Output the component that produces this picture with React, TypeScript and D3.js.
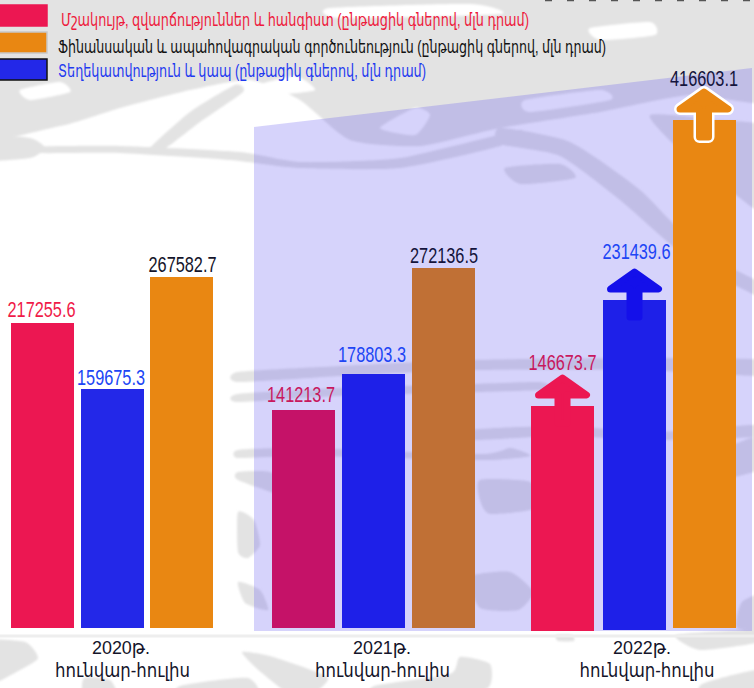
import { useEffect, useRef } from 'react';
import * as d3 from 'd3';

const years = ['2020', '2021', '2022'];
const yearLabels = ['2020թ.', '2021թ.', '2022թ.'];
const periodLabel = 'հունվար-հուլիս';
const seriesKeys = ['culture', 'telecom', 'finance'];

const cultureValues = [217255.6, 141213.7, 146673.7];
const telecomValues = [159675.3, 178803.3, 231439.6];
const financeValues = [267582.7, 272136.5, 416603.1];

const legendLabels = [
    'Մշակույթ, զվարճություններ և հանգիստ (ընթացիկ գներով, մլն դրամ)',
    'Ֆինանսական և ապահովագրական գործունեություն (ընթացիկ գներով, մլն դրամ)',
    'Տեղեկատվություն և կապ (ընթացիկ գներով, մլն դրամ)',
];

// the source bars are hand drawn and not proportional, so the scale goes through each bar's height
const scaleValues = [141213.7, 146673.7, 159675.3, 178803.3, 217255.6, 231439.6, 267582.7, 272136.5, 416603.1];
const scaleTops = [410, 406, 389, 374, 323, 300, 277, 268, 120];

// background map texture, closed blobs as [x, y] lists
const grayBlobs: [number, number][][] = [
    [[-30, -30], [790, -30], [790, 100], [690, 95], [600, 112], [500, 128], [420, 146], [350, 140], [300, 100], [250, 80], [190, 90], [120, 108], [60, 126], [-30, 134]],
    [[-20, 135], [30, 138], [45, 148], [30, 158], [-20, 160]],
    [[30, 147], [120, 146], [240, 152], [300, 162], [400, 158], [520, 130], [500, 146], [400, 168], [300, 168], [230, 160], [120, 153], [40, 153]],
    [[148, 150], [190, 112], [235, 85], [243, 92], [200, 122], [163, 150]],
    [[500, 128], [570, 142], [640, 190], [700, 250], [770, 288], [770, 302], [690, 260], [620, 200], [560, 156], [500, 144]],
    [[650, 115], [720, 120], [770, 130], [770, 215], [730, 190], [680, 150]],
    [[505, 168], [560, 164], [575, 178], [520, 184]],
    [[238, 372], [340, 366], [470, 360], [640, 358], [770, 360], [770, 376], [640, 370], [470, 370], [340, 376], [238, 382]],
    [[238, 394], [340, 388], [470, 384], [540, 382], [540, 390], [340, 396], [238, 402]],
    [[470, 430], [560, 426], [660, 432], [770, 424], [770, 436], [660, 440], [560, 436], [470, 440]],
    [[238, 450], [300, 448], [480, 454], [510, 448], [530, 456], [480, 460], [300, 456], [238, 458]],
    [[238, 472], [270, 472], [298, 490], [290, 498], [238, 480]],
    [[480, 480], [530, 482], [536, 508], [490, 514], [480, 500]],
    [[680, 468], [770, 432], [770, 466], [690, 486]],
    [[238, 512], [254, 520], [260, 545], [248, 558], [238, 552]],
    [[470, 577], [510, 572], [533, 592], [518, 610], [480, 608]],
    [[238, 582], [260, 590], [268, 610], [245, 603]],
    [[742, 602], [770, 592], [770, 628], [737, 628]],
    [[-20, 642], [25, 642], [38, 658], [20, 670], [-20, 688]],
    [[84, 678], [110, 680], [118, 700], [84, 700]],
    [[180, 686], [248, 678], [258, 700], [180, 700]],
    [[242, 652], [273, 657], [328, 678], [300, 700], [262, 673]],
    [[374, 686], [450, 674], [460, 657], [490, 664], [488, 688], [440, 700], [374, 700]],
    [[556, 635], [572, 635], [574, 641], [558, 641]],
    [[676, 635], [754, 630], [760, 642], [700, 650]],
    [[702, 684], [760, 670], [760, 700], [702, 700]],
];

const whitePatches: [number, number][][] = [
    [[20, 90], [60, 82], [70, 92], [30, 100]],
    [[330, 8], [470, 4], [500, 14], [340, 18]],
    [[250, 88], [295, 76], [315, 90], [280, 94]],
    [[380, 128], [415, 108], [430, 115], [415, 135]],
    [[525, 100], [600, 90], [610, 100], [530, 112]],
    [[590, 28], [650, 22], [655, 35], [600, 40]],
];

const width = 754;
const height = 688;

const App = () => {
    const svgRef = useRef<SVGSVGElement>(null);

    useEffect(() => {
        const svg = d3.select(svgRef.current);
        svg.selectAll('*').remove();

        const y = d3.scaleLinear().domain(scaleValues).range(scaleTops);
        const xGroup = d3.scaleBand().domain(years).range([11, 734]).paddingInner(57 / 260);
        const xBar = d3.scaleBand().domain(seriesKeys).range([0, xGroup.bandwidth()]).paddingInner(0.1);

        const rows = [cultureValues, telecomValues, financeValues];
        const barColors = [
            ['#ec1752', '#c51268', '#ec1752'],
            ['#2328e8', '#1e20e8', '#1e20e8'],
            ['#e98712', '#c07035', '#e98712'],
        ];
        const labelColors = [
            ['#f01a48', '#c8185e', '#c8185e'],
            ['#2045f5', '#2045f5', '#2045f5'],
            ['#14142a', '#14143c', '#14143c'],
        ];
        // small hand corrections seen in the source
        const barShift = [[0, 1, 0], [0, 1, 2], [-1, 1, 2]];
        const barBase = [[628, 628, 631], [628, 628, 630], [628, 628, 628]];
        const labelCenter = [[41.5, 301, 562.5], [111, 372, 636.5], [182.5, 444, 704]];
        const labelGap = [[6.5, 8, 36], [4, 12, 41], [5.5, 5.5, 34]];
        const arrowCenter = [562.5, 634.5, 704];

        svg.append('rect').attr('width', width).attr('height', height).attr('fill', '#fff');

        // texture
        const defs = svg.append('defs');
        defs.append('filter').attr('id', 'soft').append('feGaussianBlur').attr('stdDeviation', 0.8);
        const blob = d3.line().curve(d3.curveCardinalClosed.tension(0.4));
        const texture = svg.append('g').attr('filter', 'url(#soft)');
        grayBlobs.forEach(pts => {
            texture.append('path').attr('d', blob(pts)).attr('fill', '#e3e3e3');
        });
        whitePatches.forEach(pts => {
            texture.append('path').attr('d', blob(pts)).attr('fill', '#fff');
        });
        svg.append('line')
            .attr('x1', 0).attr('x2', width).attr('y1', 636).attr('y2', 636)
            .attr('stroke', '#eeeeee').attr('stroke-width', 3);
        svg.append('line')
            .attr('x1', 545).attr('x2', 754).attr('y1', 0.5).attr('y2', 0.5)
            .attr('stroke', '#555').attr('stroke-width', 1.5).attr('stroke-dasharray', '7 15');

        // tinted panel behind 2021 and 2022
        svg.append('path')
            .attr('d', 'M254,127 L752,68 V631 H254 Z')
            .attr('fill', '#5a50f0')
            .attr('fill-opacity', 0.25);

        // bars
        seriesKeys.forEach((key, s) => {
            years.forEach((year, i) => {
                const value = rows[s][i];
                const top = y(value);
                svg.append('rect')
                    .attr('x', (xGroup(year) as number) + (xBar(key) as number) + barShift[s][i])
                    .attr('y', top)
                    .attr('width', xBar.bandwidth())
                    .attr('height', barBase[s][i] - top)
                    .attr('fill', barColors[s][i]);
            });
        });

        // growth arrows on the 2022 bars
        const arrowColors = ['#ec1752', '#1410ea', '#e98712'];
        const arrowPath = d3.line();
        seriesKeys.forEach((key, s) => {
            const top = y(rows[s][2]);
            const cx = arrowCenter[s];
            const shape: [number, number][] = [
                [cx, top - 28],
                [cx + 24, top - 11],
                [cx + 4.5, top - 11],
                [cx + 4.5, top + 17],
                [cx - 4.5, top + 17],
                [cx - 4.5, top - 11],
                [cx - 24, top - 11],
            ];
            const d = arrowPath(shape) + 'Z';
            if (key === 'finance') {
                svg.append('path').attr('d', d)
                    .attr('fill', '#fff').attr('stroke', '#fff').attr('stroke-width', 12).attr('stroke-linejoin', 'round');
            }
            svg.append('path').attr('d', d)
                .attr('fill', arrowColors[s]).attr('stroke', arrowColors[s]).attr('stroke-width', 7).attr('stroke-linejoin', 'round');
        });

        // value labels
        seriesKeys.forEach((key, s) => {
            years.forEach((year, i) => {
                const value = rows[s][i];
                svg.append('text')
                    .attr('class', `value-${key}-${year}`)
                    .text(value.toFixed(1))
                    .attr('x', labelCenter[s][i])
                    .attr('y', y(value) - labelGap[s][i])
                    .attr('text-anchor', 'middle')
                    .attr('textLength', 68)
                    .attr('lengthAdjust', 'spacingAndGlyphs')
                    .style('font-family', '"Liberation Sans", Arial, sans-serif')
                    .style('font-size', '22px')
                    .style('fill', labelColors[s][i]);
            });
        });

        // x labels
        const labelFont = '"Liberation Sans", "DejaVu Sans", sans-serif';
        const yearCenters = [121, 382, 642];
        const periodCenters = [122.5, 382.5, 647];
        years.forEach((year, i) => {
            svg.append('text')
                .text(yearLabels[i])
                .attr('x', yearCenters[i])
                .attr('y', 654)
                .attr('text-anchor', 'middle')
                .attr('textLength', 58)
                .attr('lengthAdjust', 'spacingAndGlyphs')
                .style('font-family', labelFont)
                .style('font-size', '19px')
                .style('fill', '#14142a');
            svg.append('text')
                .text(periodLabel)
                .attr('x', periodCenters[i])
                .attr('y', 677)
                .attr('text-anchor', 'middle')
                .attr('textLength', 135)
                .attr('lengthAdjust', 'spacingAndGlyphs')
                .style('font-family', labelFont)
                .style('font-size', '19px')
                .style('fill', '#14142a');
        });

        // legend
        const legendFill = ['#ec1752', '#e98712', '#2328e8'];
        const legendStroke = ['#ec1752', '#c8c8c8', '#111'];
        const legendTop = [5, 32, 59];
        const legendText = ['#ee1a3c', '#111', '#1f3af0'];
        const legendX = [61, 58, 58];
        const legendW = [468, 548, 368];
        const legendBase = [26, 53, 77];
        legendLabels.forEach((label, i) => {
            svg.append('rect')
                .attr('x', -2)
                .attr('y', legendTop[i])
                .attr('width', 49)
                .attr('height', 21)
                .attr('fill', legendFill[i])
                .attr('stroke', legendStroke[i])
                .attr('stroke-width', 1.5);
            svg.append('text')
                .text(label)
                .attr('x', legendX[i])
                .attr('y', legendBase[i])
                .attr('textLength', legendW[i])
                .attr('lengthAdjust', 'spacingAndGlyphs')
                .style('font-family', labelFont)
                .style('font-size', '18px')
                .style('fill', legendText[i]);
        });
    }, []);

    return <svg ref={svgRef} width={width} height={height} style={{ position: 'fixed', left: 0, top: 0 }} />;
};

export default App;
